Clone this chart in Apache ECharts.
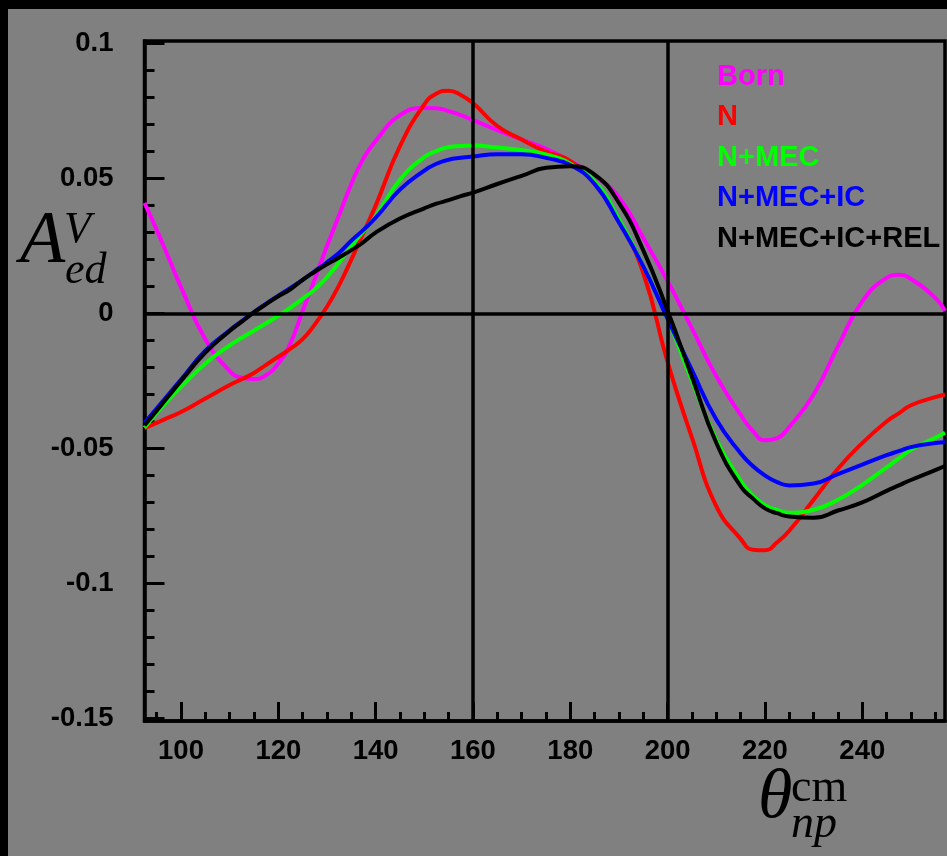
<!DOCTYPE html>
<html>
<head>
<meta charset="utf-8">
<script src="https://cdn.jsdelivr.net/npm/echarts@6/dist/echarts.min.js"></script>
<style>html,body{margin:0;padding:0;background:#808080;}#c{width:947px;height:856px;}</style>
</head>
<body>
<div id="c"></div>
<script>
// angles (theta_np^cm, degrees)
const angles = [92.5, 95, 97.5, 100, 105, 110, 112.5, 115, 117.5, 120, 122.5, 125, 127.5, 130, 132.5, 135, 137.5, 140, 145, 150, 152.5, 155, 157.5, 160, 165, 170, 175, 180, 185, 190, 195, 200, 205, 210, 215, 217.5, 220, 222.5, 225, 230, 235, 240, 245, 247.5, 250, 255, 257];
const born = [0.041, 0.031, 0.0205, 0.0098, -0.0095, -0.0213, -0.0238, -0.0243, -0.0228, -0.0185, -0.011, 0.001, 0.0128, 0.025, 0.0365, 0.048, 0.0575, 0.064, 0.0735, 0.0762, 0.0761, 0.075, 0.0735, 0.0717, 0.068, 0.0645, 0.061, 0.0565, 0.051, 0.043, 0.028, 0.012, -0.0055, -0.0232, -0.0375, -0.0435, -0.0470, -0.0462, -0.042, -0.030, -0.0122, 0.0045, 0.0132, 0.0144, 0.0128, 0.0058, 0.001];
const nOnly = [-0.0425, -0.0405, -0.0385, -0.0365, -0.0315, -0.0265, -0.0243, -0.022, -0.019, -0.016, -0.013, -0.0095, -0.004, 0.0025, 0.0105, 0.020, 0.030, 0.040, 0.062, 0.0775, 0.0815, 0.0826, 0.081, 0.078, 0.0695, 0.0645, 0.060, 0.0565, 0.048, 0.0345, 0.015, -0.018, -0.046, -0.0714, -0.0835, -0.0875, -0.0877, -0.0848, -0.0805, -0.069, -0.0575, -0.048, -0.040, -0.037, -0.034, -0.031, -0.030];
const nMec = [-0.0423, -0.0368, -0.0318, -0.0272, -0.0185, -0.0118, -0.009, -0.0063, -0.0036, -0.0008, 0.0022, 0.0055, 0.009, 0.0135, 0.019, 0.025, 0.0305, 0.036, 0.0496, 0.058, 0.0602, 0.0617, 0.0621, 0.0623, 0.0615, 0.0605, 0.059, 0.0555, 0.049, 0.035, 0.0175, -0.002, -0.025, -0.0467, -0.062, -0.0675, -0.071, -0.0728, -0.0738, -0.0727, -0.069, -0.0635, -0.057, -0.0537, -0.0505, -0.046, -0.0442];
const nMecIc = [-0.0405, -0.0352, -0.0298, -0.0245, -0.0138, -0.0062, -0.0028, 0.0005, 0.0037, 0.0066, 0.0095, 0.0125, 0.0157, 0.019, 0.0225, 0.027, 0.031, 0.0355, 0.0459, 0.053, 0.0555, 0.057, 0.0577, 0.0582, 0.059, 0.059, 0.0577, 0.055, 0.048, 0.0337, 0.0175, -0.002, -0.021, -0.0393, -0.0518, -0.0565, -0.060, -0.0625, -0.0637, -0.063, -0.0595, -0.056, -0.0525, -0.051, -0.0495, -0.048, -0.0477];
const nMecIcRel = [-0.0415, -0.036, -0.0305, -0.025, -0.0145, -0.0065, -0.003, 0.0004, 0.0035, 0.0064, 0.009, 0.0125, 0.0155, 0.0183, 0.0208, 0.0235, 0.0265, 0.030, 0.0352, 0.039, 0.0407, 0.042, 0.0435, 0.0448, 0.048, 0.051, 0.054, 0.0546, 0.0515, 0.041, 0.0234, 0.001, -0.0235, -0.0479, -0.064, -0.0685, -0.0722, -0.074, -0.0752, -0.0757, -0.073, -0.070, -0.0657, -0.0637, -0.0617, -0.058, -0.0565];

const seriesNames = ['Born', 'N', 'N+MEC', 'N+MEC+IC', 'N+MEC+IC+REL'];
const seriesColors = ['#ff00ff', '#ff0000', '#00ff00', '#0000ff', '#000000'];
const seriesValues = [born, nOnly, nMec, nMecIc, nMecIcRel];

const xMajorTicks = [100, 120, 140, 160, 180, 200, 220, 240];
const xMinorTicks = [95, 105, 110, 115, 125, 130, 135, 145, 150, 155, 165, 170, 175, 185, 190, 195, 205, 210, 215, 225, 230, 235, 245, 250, 255];
const yMajorTicks = [-0.15, -0.1, -0.05, 0, 0.05, 0.1];
const yMinorTicks = [-0.14, -0.13, -0.12, -0.11, -0.09, -0.08, -0.07, -0.06, -0.04, -0.03, -0.02, -0.01, 0.01, 0.02, 0.03, 0.04, 0.06, 0.07, 0.08, 0.09];
const refLinesX = [160, 200];
const refLineY = 0;

const chart = echarts.init(document.getElementById('c'), null, {renderer: 'canvas'});
const labelFont = {color: '#000', fontSize: 27.5, fontWeight: 'bold', fontFamily: 'Liberation Sans'};

const series = seriesNames.map((name, k) => ({
  name: name,
  type: 'line',
  smooth: 0.5,
  symbol: 'none',
  clip: true,
  z: 3,
  lineStyle: {color: seriesColors[k], width: 4},
  itemStyle: {color: seriesColors[k]},
  data: angles.map((a, i) => [a, seriesValues[k][i]])
}));
series.push({
  name: 'ref',
  type: 'line',
  data: [],
  z: 6,
  markLine: {
    silent: true,
    symbol: 'none',
    label: {show: false},
    lineStyle: {color: '#000', width: 3.5, type: 'solid'},
    data: [{yAxis: refLineY}].concat(refLinesX.map(v => ({xAxis: v})))
  }
});

const option = {
  backgroundColor: '#808080',
  animation: false,
  grid: {left: 144.5, top: 41, right: 2, bottom: 135, show: true, borderColor: '#000', borderWidth: 3.5, backgroundColor: 'transparent'},
  legend: {
    orient: 'vertical', left: 707, top: 57, itemGap: 11.5, itemWidth: 0, itemHeight: 29,
    selectedMode: false, icon: 'rect',
    textStyle: {fontSize: 29, fontWeight: 'bold', fontFamily: 'Liberation Sans', lineHeight: 29},
    data: seriesNames.map((n, k) => ({name: n, textStyle: {color: seriesColors[k]}}))
  },
  xAxis: [
    {type: 'value', min: 92.5, max: 257, position: 'bottom',
      axisLine: {show: true, onZero: false, lineStyle: {color: '#000', width: 3.5}},
      axisTick: {show: true, inside: true, length: 19, lineStyle: {color: '#000', width: 3}, customValues: xMajorTicks},
      axisLabel: Object.assign({customValues: xMajorTicks, margin: 16}, labelFont),
      splitLine: {show: false}},
    {type: 'value', min: 92.5, max: 257, position: 'bottom',
      axisLine: {show: false, onZero: false},
      axisTick: {show: true, inside: true, length: 9, lineStyle: {color: '#000', width: 3}, customValues: xMinorTicks},
      axisLabel: {show: false},
      splitLine: {show: false}}
  ],
  yAxis: [
    {type: 'value', min: -0.151, max: 0.101, position: 'left',
      axisLine: {show: true, onZero: false, lineStyle: {color: '#000', width: 3.5}},
      axisTick: {show: true, inside: true, length: 20, lineStyle: {color: '#000', width: 3}, customValues: yMajorTicks},
      axisLabel: Object.assign({customValues: yMajorTicks, margin: 31}, labelFont),
      splitLine: {show: false}},
    {type: 'value', min: -0.151, max: 0.101, position: 'left',
      axisLine: {show: false, onZero: false},
      axisTick: {show: true, inside: true, length: 10, lineStyle: {color: '#000', width: 3}, customValues: yMinorTicks},
      axisLabel: {show: false},
      splitLine: {show: false}}
  ],
  graphic: [
    {type: 'rect', shape: {x: 0, y: 0, width: 947, height: 9}, style: {fill: '#000'}, silent: true},
    {type: 'rect', shape: {x: 0, y: 0, width: 8, height: 856}, style: {fill: '#000'}, silent: true},
    {type: 'text', x: 20, y: 243, style: {text: 'A', font: 'italic 74px "Liberation Serif"', fill: '#000', verticalAlign: 'middle'}},
    {type: 'text', x: 64, y: 230, style: {text: 'V', font: 'italic 44px "Liberation Serif"', fill: '#000', verticalAlign: 'middle'}},
    {type: 'text', x: 65, y: 271, style: {text: 'ed', font: 'italic 44px "Liberation Serif"', fill: '#000', verticalAlign: 'middle'}},
    {type: 'text', x: 758, y: 799, style: {text: 'θ', font: 'italic 70px "Liberation Serif"', fill: '#000', verticalAlign: 'middle'}},
    {type: 'text', x: 791, y: 789, style: {text: 'cm', font: '46px "Liberation Serif"', fill: '#000', verticalAlign: 'middle'}},
    {type: 'text', x: 791, y: 825, style: {text: 'np', font: 'italic 46px "Liberation Serif"', fill: '#000', verticalAlign: 'middle'}}
  ],
  series: series
};
chart.setOption(option);
</script>
</body>
</html>
